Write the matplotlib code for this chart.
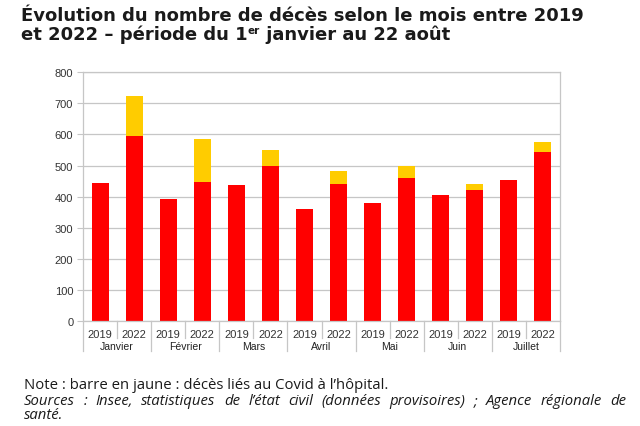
import matplotlib
matplotlib.use("Agg")
import matplotlib.pyplot as plt

# ---- data ----
months = ["Janvier", "Février", "Mars", "Avril", "Mai", "Juin", "Juillet"]
years = ["2019", "2022"]
deaths_2019 = [445, 392, 438, 360, 381, 404, 453]
deaths_2022_other = [594, 447, 500, 441, 460, 420, 543]
covid_2022 = [130, 139, 50, 40, 38, 21, 32]
yticks = [0, 100, 200, 300, 400, 500, 600, 700, 800]

W, H = 640, 427
fig = plt.figure(figsize=(W / 100, H / 100), dpi=100)
fig.patch.set_facecolor("white")

ax = fig.add_axes([83 / W, 1 - 322 / H, (560 - 83) / W, (322 - 73.3) / H])

RED = "#ff0000"
YEL = "#ffcc00"
GRID = "#c6c6c6"

x19 = [2 * i for i in range(len(months))]
x22 = [2 * i + 1 for i in range(len(months))]
ax.bar(x19, deaths_2019, width=0.5, color=RED, zorder=2)
ax.bar(x22, deaths_2022_other, width=0.5, color=RED, zorder=2)
ax.bar(x22, covid_2022, width=0.5, bottom=deaths_2022_other, color=YEL, zorder=2)

ax.set_xlim(-0.5, 2 * len(months) - 0.5)
ax.set_ylim(0, 800)
ax.set_yticks(yticks)
ax.set_xticks([])
ax.yaxis.grid(True, color=GRID, lw=0.9)
ax.set_axisbelow(True)
for s in ax.spines.values():
    s.set_color(GRID)
    s.set_linewidth(0.9)
ax.tick_params(axis="y", length=4, color=GRID, labelsize=8, labelcolor="#333333", pad=3)
for lab in ax.get_yticklabels():
    lab.set_fontfamily("Liberation Sans")

# two-level category axis
tr = ax.get_xaxis_transform()
for i, m in enumerate(months):
    for j, y in enumerate(years):
        ax.annotate(y, xy=(2 * i + j, 0), xycoords=("data", "axes fraction"),
                    xytext=(0, -13), textcoords="offset pixels", ha="center", va="center",
                    fontsize=8, color="#333333", family="Liberation Sans")
    ax.annotate(m, xy=(2 * i + 0.5, 0), xycoords=("data", "axes fraction"),
                xytext=(0, -25.5), textcoords="offset pixels", ha="center", va="center",
                fontsize=7.5, color="#222222", family="Liberation Sans")
    ax.plot([2 * i + 0.5] * 2, [0, -17 / 248.7], transform=tr, color=GRID, lw=0.9, clip_on=False)
for k in range(len(months) + 1):
    ax.plot([2 * k - 0.5] * 2, [0, -30 / 248.7], transform=tr, color=GRID, lw=0.9, clip_on=False)

renderer = fig.canvas.get_renderer()


def put_runs(x, y, runs):
    for txt, kw, dy in runs:
        t = fig.text(x / W, (H - y + dy) / H, txt, va="baseline", ha="left", **kw)
        x += t.get_window_extent(renderer).width


tkw = dict(family="DejaVu Sans", fontweight="bold", fontsize=13, color="#1a1a1a")
skw = dict(family="DejaVu Sans", fontweight="bold", fontsize=7.5, color="#1a1a1a")
put_runs(21, 21, [("Évolution du nombre de décès selon le mois entre 2019", tkw, 0)])
put_runs(21, 40, [("et 2022 – période du 1", tkw, 0), ("er", skw, 6),
                  (" janvier au 22 août", tkw, 0)])

nkw = dict(family="Open Sans", fontsize=10.7, color="#1a1a1a")
ikw = dict(family="Open Sans", fontsize=10.7, color="#1a1a1a", style="italic")
fig.text(24 / W, 1 - 389 / H, "Note : barre en jaune : décès liés au Covid à l’hôpital.", va="baseline", **nkw)


def justified(x0, x1, y, text, kw):
    words = text.split(" ")
    ts = [fig.text(0, 1 - y / H, w, va="baseline", **kw) for w in words]
    widths = [t.get_window_extent(renderer).width for t in ts]
    gap = (x1 - x0 - sum(widths)) / (len(words) - 1)
    x = x0
    for t, w in zip(ts, widths):
        t.set_x(x / W)
        x += w + gap


justified(24, 626, 405, "Sources : Insee, statistiques de l’état civil (données provisoires) ; Agence régionale de", ikw)
fig.text(24 / W, 1 - 419.5 / H, "santé.", va="baseline", **ikw)

fig.savefig("out.png", dpi=100, facecolor="white")
